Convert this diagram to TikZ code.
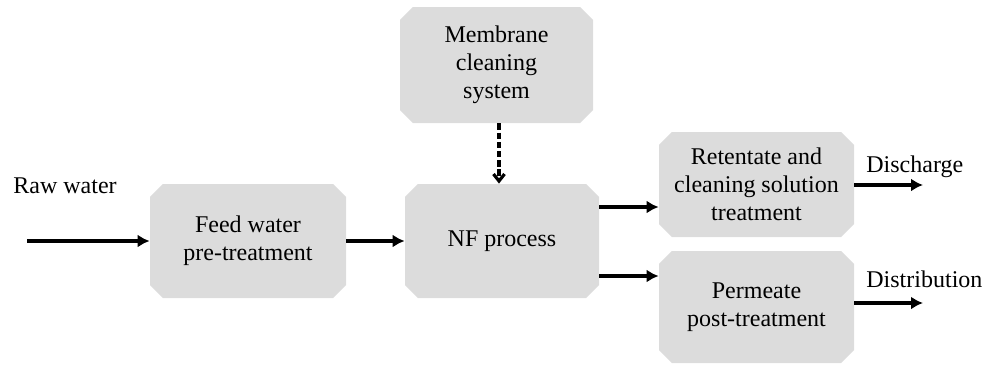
\documentclass[tikz,border=0pt]{standalone}
\usepackage{fontspec}
\setmainfont{Liberation Serif}
\usetikzlibrary{shapes.misc,arrows.meta}
\begin{document}
\begin{tikzpicture}[x=0.5pt,y=-0.5pt,
  box/.style={chamfered rectangle, chamfered rectangle xsep=3.2pt, chamfered rectangle ysep=3.2pt,
    fill=boxgray, draw=none, inner sep=0pt, align=center,
    font=\fontsize{12}{14}\selectfont},
  lbl/.style={inner sep=0pt, font=\fontsize{12}{14}\selectfont},
  flow/.style={line width=1.6pt, -{Latex[length=6pt,width=6.5pt]}},
  dflow/.style={line width=1.6pt, dash pattern=on 3.2pt off 1.4pt, -{Straight Barb[length=3.5pt,width=5.5pt]}}
]
\definecolor{boxgray}{HTML}{DCDCDC}
\useasboundingbox (0,0) rectangle (990,364);

\node[box, minimum width=96.5pt, minimum height=58pt] (mem) at (496.5,65) {Membrane\\cleaning\\system};
\node[box, minimum width=98pt, minimum height=57pt] (feed) at (248,241) {Feed water\\pre-treatment};
\node[box, minimum width=97pt, minimum height=57pt] (nf) at (502,241) {NF process};
\node[box, minimum width=97.5pt, minimum height=52.5pt] (ret) at (756.5,184.5) {Retentate and\\cleaning solution\\treatment};
\node[box, minimum width=97.5pt, minimum height=56pt] (perm) at (756.5,307) {Permeate\\post-treatment};

\node[lbl, anchor=base west] (raw) at (13,193) {Raw water};
\node[lbl, anchor=base west] (dis) at (866,172) {Discharge};
\node[lbl, anchor=base west] (dist) at (866,287) {Distribution};

\coordinate (rawstart) at (27,241);
\coordinate (yret) at (0,207);
\coordinate (yperm) at (0,276);
\coordinate (disend) at (923,185);
\coordinate (distend) at (923,303);
\coordinate (dashx) at (499,0);

\draw[flow] (rawstart) -- (feed.west);
\draw[flow] (feed.east) -- (nf.west);
\draw[dflow] (mem.south -| dashx) -- (nf.north -| dashx);
\draw[flow] (nf.east |- yret) -- (ret.west |- yret);
\draw[flow] (nf.east |- yperm) -- (perm.west |- yperm);
\draw[flow] (ret.east |- disend) -- (disend);
\draw[flow] (perm.east |- distend) -- (distend);
\end{tikzpicture}
\end{document}
